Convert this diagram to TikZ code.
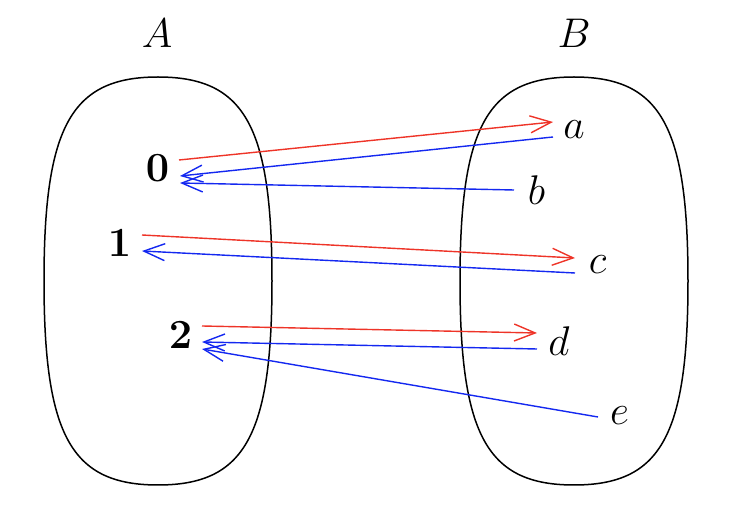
\documentclass[tikz,border=0pt]{standalone}
\usetikzlibrary{arrows.meta}
\definecolor{myred}{RGB}{238,52,40}
\definecolor{myblue}{RGB}{20,40,240}
\begin{document}
\begin{tikzpicture}[x=0.5pt,y=-0.5pt,
  setbox/.style={draw=black,line width=0.75pt},
  lbl/.style={inner sep=0pt,font=\huge},
  fwd/.style={draw=myred,line width=0.7pt,-{Straight Barb[length=10.5pt,width=8.5pt,line width=0.7pt]}},
  bwd/.style={draw=myblue,line width=0.7pt,-{Straight Barb[length=10.5pt,width=8.5pt,line width=0.7pt]}}]
\useasboundingbox (0,0) rectangle (730,518);
% set A: centre (158,281), half-width 114, half-height 204
\draw[setbox] (158,77) .. controls (71.4,77) and (44,126) .. (44,281)
  .. controls (44,436) and (71.4,485) .. (158,485)
  .. controls (244.6,485) and (272,436) .. (272,281)
  .. controls (272,126) and (244.6,77) .. cycle;
% set B: centre (574,281)
\draw[setbox] (574,77) .. controls (487.4,77) and (460,126) .. (460,281)
  .. controls (460,436) and (487.4,485) .. (574,485)
  .. controls (660.6,485) and (688,436) .. (688,281)
  .. controls (688,126) and (660.6,77) .. cycle;
\node[lbl] (SA) at (157,33) {$A$};
\node[lbl] (SB) at (574,33) {$B$};
\node[lbl] (n0) at (157.5,168.5) {$\mathbf{0}$};
\node[lbl] (n1) at (119.5,243.5) {$\mathbf{1}$};
\node[lbl] (n2) at (180.5,335) {$\mathbf{2}$};
\node[lbl] (la) at (574,129.5) {$a$};
\node[lbl] (lb) at (536.5,190) {$b$};
\node[lbl] (lc) at (597.5,265) {$c$};
\node[lbl] (ld) at (559,341.5) {$d$};
\node[lbl] (le) at (619.5,416) {$e$};
% endpoints
\coordinate (p0r) at (179,160);
\coordinate (p0a) at (180,176);
\coordinate (p0b) at (180,183);
\coordinate (qar) at (553,122);
\coordinate (qab) at (553,137);
\coordinate (qb) at (514,190);
\coordinate (p1r) at (142,235);
\coordinate (p1b) at (142,251);
\coordinate (qcr) at (575,258);
\coordinate (qcb) at (575,273);
\coordinate (p2r) at (202,326);
\coordinate (p2d) at (202,342);
\coordinate (p2e) at (202,349);
\coordinate (qdr) at (537,333);
\coordinate (qdb) at (537,349);
\coordinate (qe) at (598,417);
\draw[fwd] (p0r) -- (qar);
\draw[bwd] (qab) -- (p0a);
\draw[bwd] (qb) -- (p0b);
\draw[fwd] (p1r) -- (qcr);
\draw[bwd] (qcb) -- (p1b);
\draw[fwd] (p2r) -- (qdr);
\draw[bwd] (qdb) -- (p2d);
\draw[bwd] (qe) -- (p2e);
\end{tikzpicture}
\end{document}
